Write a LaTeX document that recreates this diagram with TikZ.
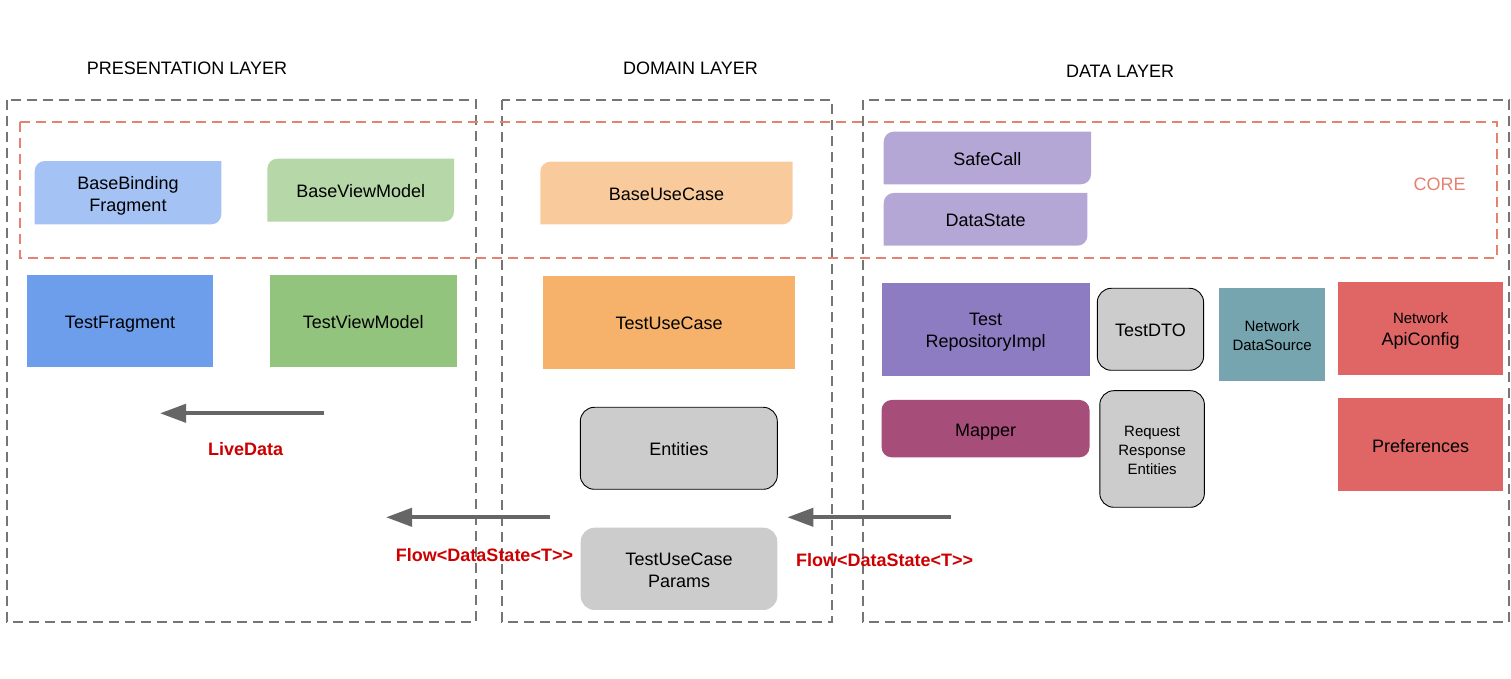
\documentclass[tikz,border=0pt]{standalone}
\usepackage{fontspec}
\setmainfont{Liberation Sans}
\usetikzlibrary{arrows.meta,backgrounds}
\definecolor{laygray}{HTML}{757575}
\definecolor{corered}{HTML}{E6806F}
\definecolor{labelred}{HTML}{CC0000}
\definecolor{arrgray}{HTML}{666666}
\definecolor{cBBF}{HTML}{A4C2F4}
\definecolor{cBVM}{HTML}{B6D7A8}
\definecolor{cTF}{HTML}{6D9EEB}
\definecolor{cTVM}{HTML}{93C47D}
\definecolor{cBUC}{HTML}{F9CB9C}
\definecolor{cTUC}{HTML}{F6B26B}
\definecolor{cCore}{HTML}{B4A7D6}
\definecolor{cRepo}{HTML}{8E7CC3}
\definecolor{cMap}{HTML}{A64D79}
\definecolor{cNet}{HTML}{76A5AF}
\definecolor{cRed}{HTML}{E06666}
\definecolor{cGray}{HTML}{CCCCCC}
\newcommand\fsbig{\fontsize{18}{22}\selectfont}
\newcommand\fssmall{\fontsize{15}{19}\selectfont}
\newcommand\tlbrfill[2]{\fill[#2] (#1.south west) -- ([yshift=-10pt]#1.north west) arc[start angle=180,end angle=90,radius=10pt] -- (#1.north east) -- ([yshift=10pt]#1.south east) arc[start angle=0,end angle=-90,radius=10pt] -- cycle;}
\begin{document}
\begin{tikzpicture}[x=1pt,y=1pt,
  lay/.style={draw=laygray, line width=2pt, dash pattern=on 10pt off 6pt},
  corebox/.style={draw=corered, line width=2pt, dash pattern=on 10pt off 6pt},
  blk/.style={inner sep=0pt, outer sep=0pt, align=center, font=\fsbig, text=black, text height=14.9pt, text depth=0pt},
  twol/.style={text height=36.9pt, text depth=0pt},
  stwol/.style={text height=31.7pt, text depth=0pt},
  sthreel/.style={text height=50.7pt, text depth=0pt},
  gbox/.style={blk, fill=cGray, draw=black, line width=0.9pt, rounded corners=14pt},
  title/.style={font=\fsbig, text=black},
  flowlbl/.style={font=\fsbig\bfseries, text=labelred},
  flowarr/.style={draw=arrgray, line width=4pt, -{Triangle[length=26pt,width=18pt]}}]
\useasboundingbox (0,0) rectangle (1511,679);

% titles
\node[title] (tpres) at (187,611) {PRESENTATION LAYER};
\node[title] (tdom) at (690.5,611) {DOMAIN LAYER};
\node[title] (tdata) at (1120,608) {DATA LAYER};

% presentation
\node[blk, twol, minimum width=186.6pt, minimum height=63.3pt] (bbf) at (128,486.3) {BaseBinding\\Fragment};
\node[blk, minimum width=186.7pt, minimum height=63pt] (bvm) at (360.7,488.8) {BaseViewModel};
\node[blk, fill=cTF, minimum width=186.6pt, minimum height=92pt] (tf) at (120,358) {TestFragment};
\node[blk, fill=cTVM, minimum width=187pt, minimum height=92pt] (tvm) at (363.2,358) {TestViewModel};

% domain
\node[blk, minimum width=252.4pt, minimum height=62.6pt] (buc) at (666.5,486) {BaseUseCase};
\node[blk, fill=cTUC, minimum width=252.3pt, minimum height=93pt] (tuc) at (669.2,356.5) {TestUseCase};
\node[gbox, minimum width=197pt, minimum height=82pt] (ent) at (678.8,230.7) {Entities};
\node[gbox, twol, draw=none, minimum width=196.6pt, minimum height=82.3pt] (tucp) at (679,110.15) {TestUseCase\\Params};

% data
\node[blk, minimum width=207.3pt, minimum height=52.6pt] (safe) at (987.35,521) {SafeCall};
\node[blk, minimum width=203.7pt, minimum height=52.7pt] (dstate) at (985.55,459.65) {DataState};
\node[blk, twol, fill=cRepo, minimum width=207.9pt, minimum height=93.3pt] (repo) at (985.55,349.65) {Test\\RepositoryImpl};
\node[gbox, minimum width=106.3pt, minimum height=82pt] (dto) at (1150.45,349.7) {TestDTO};
\node[blk, stwol, fill=cNet, font=\fssmall, minimum width=105.7pt, minimum height=92.7pt] (nds) at (1272.15,344.35) {Network\\DataSource};
\node[blk, fill=cRed, text height=33.8pt, text depth=0pt, minimum width=164.3pt, minimum height=93pt] (api) at (1420.55,350.2) {{\fssmall Network}\\ApiConfig};
\node[blk, fill=cMap, rounded corners=10pt, minimum width=207.9pt, minimum height=57.3pt] (map) at (985.55,250.35) {Mapper};
\node[gbox, sthreel, font=\fssmall, minimum width=104.6pt, minimum height=116.6pt] (rre) at (1152.1,230) {Request\\Response\\Entities};
\node[blk, fill=cRed, minimum width=164.3pt, minimum height=93pt] (pref) at (1420.55,234.2) {Preferences};

\node[font=\fsbig, text=corered] (core) at (1439.7,494.7) {CORE};

\begin{pgfonlayer}{background}
\tlbrfill{bbf}{cBBF}
\tlbrfill{bvm}{cBVM}
\tlbrfill{buc}{cBUC}
\tlbrfill{safe}{cCore}
\tlbrfill{dstate}{cCore}
\end{pgfonlayer}

% containers
\draw[lay] (7,579) rectangle (476,57);
\draw[lay] (502,579) rectangle (832,57);
\draw[lay] (863,579) rectangle (1509,57);
\draw[corebox] (20,557.3) rectangle (1497,421.3);

% arrows
\coordinate (lds) at (324.3,265.7);
\coordinate (lde) at (160,265.7);
\coordinate (f1s) at (550,161.7);
\coordinate (f1e) at (386,161.7);
\coordinate (f2s) at (951.3,161.7);
\coordinate (f2e) at (787.3,161.7);
\draw[flowarr] (lds) -- (lde);
\draw[flowarr] (f1s) -- (f1e);
\draw[flowarr] (f2s) -- (f2e);

\node[flowlbl] (ldl) at (245.7,230) {LiveData};
\node[flowlbl] (fl1) at (484.5,124) {Flow<DataState<T>\kern0pt>};
\node[flowlbl] (fl2) at (884.7,119) {Flow<DataState<T>\kern0pt>};
\end{tikzpicture}
\end{document}
